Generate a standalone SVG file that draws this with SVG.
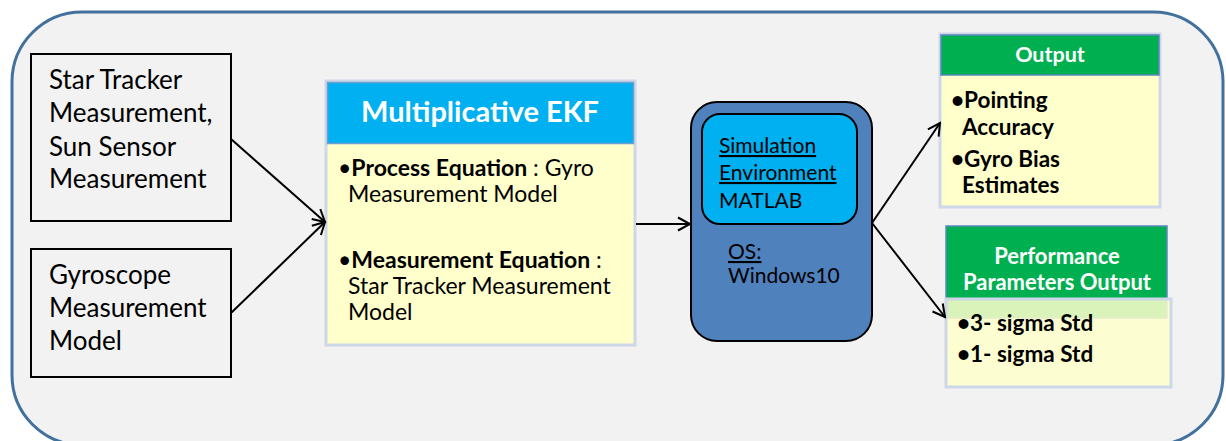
<svg xmlns="http://www.w3.org/2000/svg" width="1226" height="441" viewBox="0 0 1226 441">
  <style>
    text { font-family: Lato, "Open Sans", "Noto Sans", sans-serif; fill: #000; }
    .src { font-size: 26px; }
    .body { font-size: 23px; }
    .res { font-size: 22.5px; font-weight: bold; }
    .bold { font-weight: bold; }
    .head { font-weight: bold; fill: #fff; text-anchor: middle; }
    .sim { font-size: 21px; }
    .u { text-decoration: underline; }
    .plain { fill: #f2f2f2; stroke: #000; stroke-width: 2; }
    .panel { fill: #ffffcc; stroke: #cdd7e8; stroke-width: 3; }
    .conn { fill: none; stroke: #000; stroke-width: 2; marker-end: url(#arrow); }
  </style>
  <defs>
    <marker id="arrow" markerUnits="userSpaceOnUse" markerWidth="16" markerHeight="16" refX="14" refY="8" orient="auto">
      <path d="M2,1.5 L14,8 L2,14.5" fill="none" stroke="#000" stroke-width="2"/>
    </marker>
  </defs>

  <rect width="1226" height="441" fill="#fff"/>

  <!-- enclosing frame (bottom edge runs past the canvas) -->
  <g id="frame">
    <rect x="12" y="12" width="1211" height="433" rx="70" ry="70" fill="#f2f2f2" stroke="#41719c" stroke-width="3"/>
  </g>

  <!-- sensor inputs -->
  <g id="star-tracker">
    <rect class="plain" x="31" y="54" width="200" height="167"/>
    <text class="src" x="49" y="89">Star Tracker</text>
    <text class="src" x="49" y="122">Measurement,</text>
    <text class="src" x="49" y="156">Sun Sensor</text>
    <text class="src" x="49" y="188">Measurement</text>
  </g>
  <g id="gyroscope">
    <rect class="plain" x="31" y="249" width="200" height="128"/>
    <text class="src" x="49" y="284">Gyroscope</text>
    <text class="src" x="49" y="317">Measurement</text>
    <text class="src" x="49" y="350">Model</text>
  </g>

  <!-- filter block -->
  <g id="mekf">
    <rect class="panel" x="326" y="81" width="309" height="264"/>
    <rect x="327.5" y="82.5" width="306" height="61" fill="#00b0f0" stroke="#6f9fd0" stroke-width="1.5"/>
    <text class="head" x="480" y="122" font-size="29">Multiplicative EKF</text>
    <text class="body" x="338" y="176">•<tspan class="bold">Process Equation</tspan> : Gyro</text>
    <text class="body" x="348" y="202">Measurement Model</text>
    <text class="body" x="338" y="268">•<tspan class="bold">Measurement Equation</tspan> :</text>
    <text class="body" x="348" y="294">Star Tracker Measurement</text>
    <text class="body" x="348" y="320">Model</text>
  </g>

  <!-- simulation platform -->
  <g id="simulation">
    <rect x="691" y="102" width="181" height="239" rx="26" ry="26" fill="#4f81bd" stroke="#000" stroke-width="2"/>
    <rect x="702" y="114" width="155" height="110" rx="18" ry="18" fill="#00b0f0" stroke="#000" stroke-width="2"/>
    <text class="sim u" x="719" y="153">Simulation</text>
    <text class="sim u" x="719" y="180">Environment</text>
    <text class="sim" x="719" y="208">MATLAB</text>
    <text class="sim u" x="728" y="259">OS:</text>
    <text class="sim" x="728" y="283">Windows10</text>
  </g>

  <!-- results -->
  <g id="output">
    <rect class="panel" x="940" y="34" width="220" height="173"/>
    <rect x="941" y="35" width="218" height="40" fill="#00b050" stroke="#5a86c0" stroke-width="1.5"/>
    <text class="head" x="1050" y="62" font-size="21.5">Output</text>
    <text class="res" x="951" y="108">•Pointing</text>
    <text class="res" x="962" y="135">Accuracy</text>
    <text class="res" x="951" y="167">•Gyro Bias</text>
    <text class="res" x="962" y="193">Estimates</text>
  </g>
  <g id="performance">
    <rect x="946" y="226" width="221" height="92" fill="#00b050" stroke="#5a86c0" stroke-width="1.5"/>
    <text class="head" x="1057" y="264" font-size="22">Performance</text>
    <text class="head" x="1057" y="290" font-size="22">Parameters Output</text>
    <rect class="panel" x="946" y="299" width="225" height="88" fill-opacity="0.85"/>
    <text class="res" x="957" y="331">•3- sigma Std</text>
    <text class="res" x="957" y="362">•1- sigma Std</text>
  </g>

  <!-- connectors -->
  <g id="connectors">
    <line class="conn" x1="231" y1="139" x2="325" y2="222"/>
    <line class="conn" x1="231" y1="313" x2="325" y2="222"/>
    <line class="conn" x1="636" y1="224" x2="690" y2="224"/>
    <line class="conn" x1="872" y1="223" x2="940" y2="123"/>
    <line class="conn" x1="872" y1="223" x2="945" y2="317"/>
  </g>
</svg>
